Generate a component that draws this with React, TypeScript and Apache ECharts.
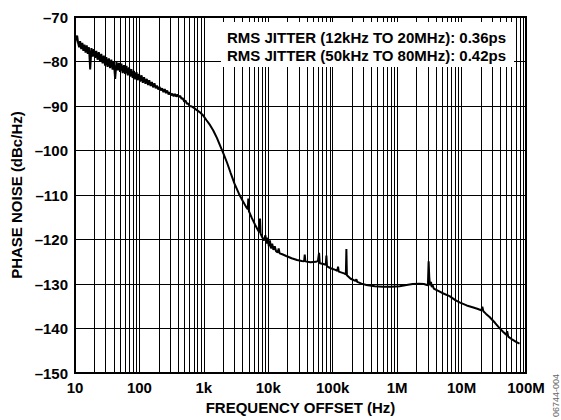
import React, { useEffect, useRef } from "react";
import * as echarts from "echarts";

const xTickLabels = ["10", "100", "1k", "10k", "100k", "1M", "10M", "100M"];
const yMin = -150;
const yMax = -70;
const yStep = 10;
const gridDecades = [10, 100, 1e3, 1e4, 1e5, 1e6, 1e7];
const gridMultiples = [2, 3, 4, 5, 6, 7, 8, 9];
const jitterLines = [
  "RMS JITTER (12kHz TO 20MHz): 0.36ps",
  "RMS JITTER (50kHz TO 80MHz): 0.42ps",
];
const figureId = "06744-004";
const xAxisName = "FREQUENCY OFFSET (Hz)";
const yAxisName = "PHASE NOISE (dBc/Hz)";

const freqHz = [
  10, 10.4, 10.8, 11.2, 11.6, 12, 12.5, 13, 13.5, 14, 14.6, 15.2, 15.8, 16.5, 17.2, 18, 18.8, 19.6,
  20.5, 21.4, 22.4, 23.4, 24.5, 25.6, 26.8, 28, 29.3, 30.6, 32, 33.5, 35, 36.6, 38.3, 40, 42, 44,
  46, 48, 50, 52.5, 55, 57.5, 60, 63, 66, 69, 72, 75, 78.5, 82, 86, 90, 94, 98.5, 103, 108, 113,
  118, 124, 130, 136, 142, 149, 156, 163, 171, 179, 187, 196, 205, 215, 225, 236, 247, 258, 270,
  283, 296, 310, 325, 340, 356, 373, 390, 410, 430, 450, 470, 495, 520, 545, 570, 600, 650, 700,
  760, 850, 960, 1100, 1250, 1400, 1600, 1800, 2000, 2300, 2600, 3000, 3500, 4000, 4500, 4800,
  4900, 5000, 5500, 6200, 7000, 7300, 7450, 7600, 8000, 8600, 9000, 9400, 9800, 10200, 10600,
  11000, 11500, 12000, 12600, 13200, 14000, 14500, 15000, 16500, 19000, 23000, 28000, 33000,
  36000, 36800, 37600, 45000, 55000, 59000, 61400, 63000, 72000, 78000, 79800, 81500, 95000,
  110000, 118000, 121000, 124000, 150000, 160000, 163000, 166000, 190000, 225000, 233000, 240000,
  280000, 333000, 450000, 600000, 800000, 1.09e6, 1.4e6, 1.74e6, 2.2e6, 2.6e6, 2.9e6, 3.0e6,
  3.08e6, 3.16e6, 3.25e6, 3.35e6, 3.45e6, 3.55e6, 3.7e6, 4.05e6, 5e6, 6.5e6, 8e6, 9.3e6, 12e6,
  14.8e6, 18e6, 20.2e6, 21e6, 21.8e6, 24e6, 27.2e6, 33e6, 38.8e6, 44e6, 49.3e6, 51e6, 53e6,
  61.7e6, 70e6, 79.4e6,
];

const phaseNoise = [
  -76.0, -74.6, -74.2, -75.9, -76.8, -75.4, -77.2, -75.8, -77.6, -76.2, -78.0, -76.4, -78.3, -76.8,
  -81.8, -77.0, -78.9, -77.2, -79.2, -77.6, -79.6, -77.9, -80.0, -78.3, -80.4, -78.7, -80.9, -79.0,
  -81.2, -79.3, -81.5, -79.6, -81.8, -80.0, -83.9, -80.1, -82.0, -80.3, -82.3, -80.5, -82.6, -80.8,
  -82.8, -81.0, -83.1, -81.3, -83.4, -81.7, -83.7, -82.1, -84.0, -82.4, -84.2, -82.8, -84.5, -83.1,
  -84.8, -83.5, -85.0, -83.9, -85.3, -84.2, -85.5, -84.6, -85.8, -84.9, -86.0, -85.4, -86.3, -85.7,
  -86.5, -86.0, -86.9, -86.2, -87.1, -86.5, -87.4, -86.9, -87.6, -87.2, -87.8, -87.3, -87.9, -87.4,
  -88.0, -87.7, -88.4, -88.2, -89.0, -88.8, -89.5, -89.4, -90.0, -90.1, -90.4, -90.8, -91.3, -92.0,
  -93.2, -94.3, -95.5, -97.2, -99.0, -100.6, -102.8, -105.0, -107.5, -109.7, -111.3, -112.6, -113.2,
  -110.8, -113.6, -115.0, -116.6, -118.0, -118.4, -115.3, -118.7, -119.4, -120.2, -119.0, -120.9,
  -119.6, -121.5, -120.2, -122.0, -120.9, -122.3, -121.5, -122.6, -122.9, -122.0, -123.1, -123.3,
  -123.7, -124.2, -124.6, -124.8, -124.9, -123.4, -124.9, -125.1, -125.0, -124.8, -123.0, -125.3,
  -125.5, -125.7, -123.6, -126.0, -126.5, -126.8, -127.0, -126.1, -127.2, -127.6, -127.8, -122.1,
  -128.0, -128.8, -129.3, -128.9, -129.5, -129.9, -130.2, -130.5, -130.6, -130.6, -130.5, -130.2,
  -130.0, -129.9, -130.0, -130.2, -130.3, -124.9, -128.8, -130.3, -129.5, -130.7, -130.2, -131.0,
  -131.3, -132.0, -132.7, -133.6, -134.1, -134.8, -135.2, -135.6, -135.9, -135.1, -136.1, -136.7,
  -137.4, -138.7, -139.9, -140.7, -141.4, -140.6, -141.8, -142.5, -143.0, -143.4,
];

const FONT = '"Liberation Sans", Arial, Helvetica, sans-serif';

export default function App() {
  const ref = useRef<HTMLDivElement>(null);

  useEffect(() => {
    if (!ref.current) return;
    const chart = echarts.init(ref.current, undefined, { renderer: "svg" });

    const seriesData = freqHz.map((f, i) => [f, phaseNoise[i]]);
    const minorLines: any[] = [];
    gridDecades.forEach((d) =>
      gridMultiples.forEach((m) => minorLines.push({ xAxis: d * m }))
    );

    chart.setOption({
      animation: false,
      textStyle: { fontFamily: FONT },
      grid: {
        left: 75,
        right: 35,
        top: 17,
        bottom: 42,
        show: true,
        borderColor: "#000",
        borderWidth: 2,
        backgroundColor: "transparent",
      },
      xAxis: {
        type: "log",
        logBase: 10,
        min: 10,
        max: 1e8,
        splitNumber: 7,
        name: xAxisName,
        nameLocation: "middle",
        nameGap: 26,
        nameTextStyle: { fontFamily: FONT, fontWeight: "bold", fontSize: 15, color: "#000" },
        axisLine: { show: true, lineStyle: { color: "#000", width: 2 } },
        axisTick: { show: false },
        axisLabel: {
          margin: 7,
          fontFamily: FONT,
          fontWeight: "bold",
          fontSize: 15,
          color: "#000",
          formatter: (v: number) => xTickLabels[Math.round(Math.log10(v)) - 1] ?? "",
        },
        splitLine: { show: true, lineStyle: { color: "#000", width: 1 } },
      },
      yAxis: {
        type: "value",
        min: yMin,
        max: yMax,
        interval: yStep,
        name: yAxisName,
        nameLocation: "middle",
        nameGap: 50,
        nameTextStyle: { fontFamily: FONT, fontWeight: "bold", fontSize: 15, color: "#000" },
        axisLine: { show: true, lineStyle: { color: "#000", width: 2 } },
        axisTick: { show: false },
        axisLabel: {
          margin: 7,
          fontFamily: FONT,
          fontWeight: "bold",
          fontSize: 15,
          color: "#000",
          formatter: (v: number) => (v < 0 ? "\u2013" + Math.abs(v) : String(v)),
        },
        splitLine: { show: true, lineStyle: { color: "#000", width: 1 } },
      },
      series: [
        {
          type: "line",
          data: seriesData,
          showSymbol: false,
          symbol: "none",
          lineStyle: { color: "#000", width: 2 },
          z: 5,
          markLine: {
            silent: true,
            symbol: ["none", "none"],
            label: { show: false },
            lineStyle: { color: "#000", width: 1, type: "solid" },
            emphasis: { disabled: true },
            data: minorLines,
            z: 1,
          },
        },
      ],
      graphic: [
        {
          type: "rect",
          z: 100,
          shape: { x: 221, y: 22, width: 293, height: 45 },
          style: { fill: "#fff" },
        },
        {
          type: "text",
          z: 101,
          x: 506,
          y: 37,
          style: {
            text: jitterLines[0],
            align: "right",
            verticalAlign: "middle",
            fontFamily: FONT,
            fontWeight: "bold",
            fontSize: 15,
            fill: "#000",
          },
        },
        {
          type: "text",
          z: 101,
          x: 506,
          y: 55,
          style: {
            text: jitterLines[1],
            align: "right",
            verticalAlign: "middle",
            fontFamily: FONT,
            fontWeight: "bold",
            fontSize: 15,
            fill: "#000",
          },
        },
        {
          type: "text",
          z: 101,
          x: 556,
          y: 374,
          rotation: Math.PI / 2,
          style: {
            text: figureId,
            align: "right",
            verticalAlign: "middle",
            fontFamily: FONT,
            fontSize: 9,
            fill: "#666",
          },
        },
      ],
    });

    return () => chart.dispose();
  }, []);

  return (
    <div
      ref={ref}
      style={{ position: "absolute", left: 0, top: 0, width: 561, height: 420 }}
    />
  );
}
